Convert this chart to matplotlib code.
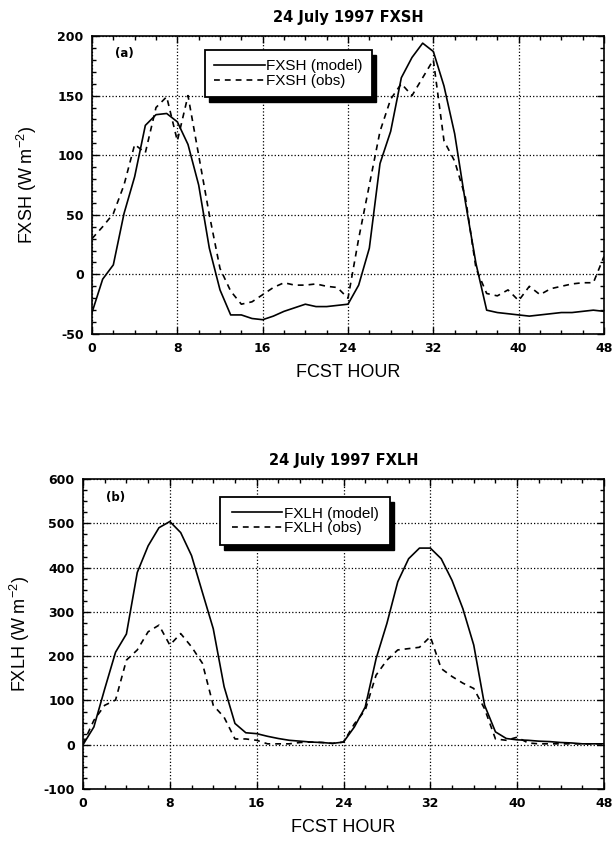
import numpy as np
import matplotlib
matplotlib.use("Agg")
import matplotlib.pyplot as plt
from matplotlib.patches import Rectangle
from matplotlib.ticker import MultipleLocator
from matplotlib.font_manager import FontProperties

plt.rcParams["axes.unicode_minus"] = False
plt.rcParams["mathtext.fontset"] = "custom"
plt.rcParams["mathtext.rm"] = "Liberation Sans"
plt.rcParams["mathtext.it"] = "Liberation Sans:italic"
plt.rcParams["mathtext.bf"] = "Liberation Sans:bold"

# forecast hours (hourly output)
hours = np.arange(0, 49)

# sensible heat flux, W m-2
fxsh_model = [-32, -4, 8, 51, 82, 125, 134, 135, 128, 109, 75, 22, -13, -34, -34,
              -37, -38, -35, -31, -28, -25, -27, -27, -26, -25, -9, 22, 93, 120,
              165, 182, 194, 187, 158, 118, 61, 9, -30, -32, -33, -34, -35, -34,
              -33, -32, -32, -31, -30, -31]
fxsh_obs = [30, 40, 51, 75, 109, 102, 140, 149, 112, 150, 100, 50, 5, -14, -25,
            -23, -17, -11, -7, -9, -9, -8, -10, -11, -20, 30, 75, 120, 147, 160,
            150, 165, 180, 112, 95, 65, 5, -16, -18, -13, -22, -10, -17, -12, -10,
            -8, -7, -7, 15]

# latent heat flux, W m-2
fxlh_model = [0, 40, 126, 209, 250, 389, 449, 490, 504, 479, 427, 344, 262, 131,
              48, 27, 25, 19, 14, 10, 8, 6, 5, 3, 6, 40, 85, 194, 274, 368, 420,
              444, 444, 420, 371, 307, 225, 89, 29, 14, 11, 10, 8, 7, 5, 4, 2, 2, 2]
fxlh_obs = [2, 55, 89, 101, 191, 214, 255, 270, 225, 251, 221, 184, 89, 62, 13,
            13, 10, 2, 2, 2, 5, 6, 5, 3, 6, 47, 78, 157, 191, 214, 217, 220, 244,
            172, 154, 139, 127, 81, 13, 10, 17, 4, 2, 2, 2, 2, 2, 2, 2]

W, H = 615, 843
fig = plt.figure(figsize=(W / 100, H / 100), dpi=100)

panels = [
    dict(rect=(92, 36, 604, 334), title="24 July 1997 FXSH", name="FXSH",
         tag="(a)", model=fxsh_model, obs=fxsh_obs, ylim=(-50, 200),
         ymaj=50, ymin=10, leg=(205, 50, 372, 97), ylpad=13),
    dict(rect=(83, 479, 604, 789), title="24 July 1997 FXLH", name="FXLH",
         tag="(b)", model=fxlh_model, obs=fxlh_obs, ylim=(-100, 600),
         ymaj=100, ymin=25, leg=(220, 497, 390, 545), ylpad=8),
]

tick_font = dict(family="DejaVu Sans", weight="bold", size=9)

for p in panels:
    x0, y0, x1, y1 = p["rect"]
    ax = fig.add_axes([x0 / W, 1 - y1 / H, (x1 - x0) / W, (y1 - y0) / H])
    ax.plot(hours, p["model"], color="black", lw=1.2, label=p["name"] + " (model)")
    ax.plot(hours, p["obs"], color="black", lw=1.2, ls=(0, (3.5, 3)),
            label=p["name"] + " (obs)")
    ax.set_xlim(0, 48)
    ax.set_ylim(*p["ylim"])
    ax.xaxis.set_major_locator(MultipleLocator(8))
    ax.xaxis.set_minor_locator(MultipleLocator(2))
    ax.yaxis.set_major_locator(MultipleLocator(p["ymaj"]))
    ax.yaxis.set_minor_locator(MultipleLocator(p["ymin"]))
    ax.tick_params(which="both", direction="in", top=True, right=True, width=1)
    ax.tick_params(which="major", length=5, pad=6)
    ax.tick_params(which="minor", length=3)
    for lab in ax.get_xticklabels() + ax.get_yticklabels():
        lab.set_fontproperties(FontProperties(**tick_font))
    for s in ax.spines.values():
        s.set_linewidth(1.2)
    ax.grid(True, which="major", color="black", ls=":", lw=0.9)

    ax.set_title(p["title"], fontdict=dict(family="DejaVu Sans", weight="bold",
                 size=10.5), pad=10)
    ax.set_xlabel("FCST HOUR", family="Liberation Sans", size=13, labelpad=6)
    ax.set_ylabel(p["name"] + " (W m$^{-2}$)", family="Liberation Sans", size=13,
                  labelpad=p["ylpad"])
    ax.text(0.045, 0.94, p["tag"], transform=ax.transAxes, family="DejaVu Sans",
            weight="bold", size=8.5, va="center")

    # legend box with a solid drop shadow
    lx0, ly0, lx1, ly1 = p["leg"]
    ax_pos = ax.get_position()
    bx = (lx0 / W - ax_pos.x0) / ax_pos.width
    by = ((1 - ly1 / H) - ax_pos.y0) / ax_pos.height
    bw = (lx1 - lx0) / W / ax_pos.width
    bh = (ly1 - ly0) / H / ax_pos.height
    leg = ax.legend(loc="center", bbox_to_anchor=(bx, by, bw, bh),
                    prop=dict(family="Liberation Sans", size=11), frameon=False,
                    handlelength=3.3, handletextpad=0.1, labelspacing=0.05,
                    borderaxespad=0)
    dx = 4 / W / ax_pos.width
    dy = 5 / H / ax_pos.height
    ax.add_patch(Rectangle((bx + dx, by - dy), bw, bh, transform=ax.transAxes,
                           facecolor="black", edgecolor="black", zorder=6,
                           clip_on=False))
    ax.add_patch(Rectangle((bx, by), bw, bh, transform=ax.transAxes,
                           facecolor="white", edgecolor="black", lw=1.3, zorder=6.5,
                           clip_on=False))
    leg.set_zorder(7)

fig.savefig("out.png", dpi=100)
